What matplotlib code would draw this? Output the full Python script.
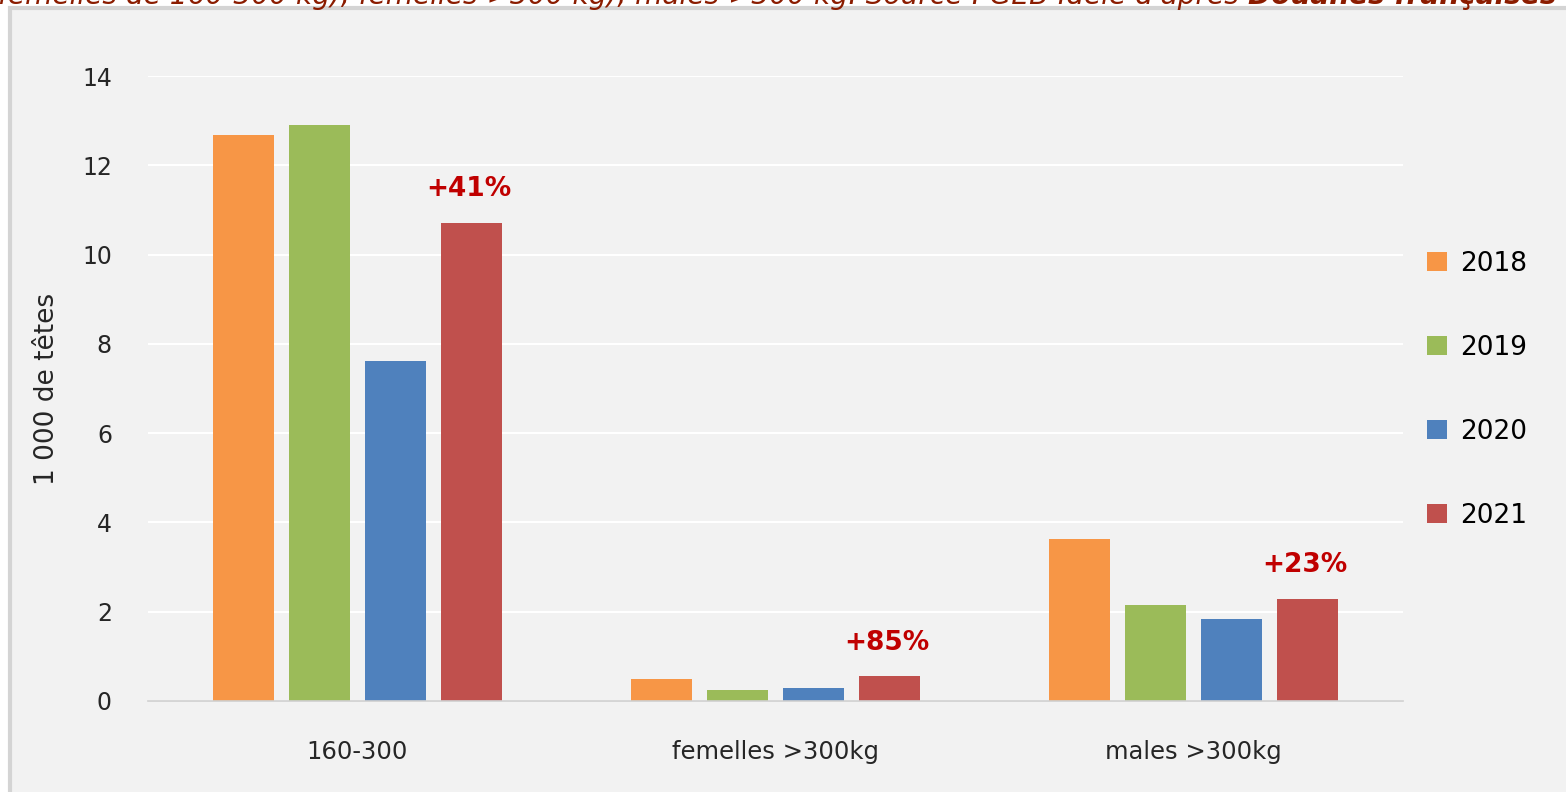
import numpy as np
import matplotlib.pyplot as plt
from matplotlib.patches import Rectangle

categories = ['160-300', 'femelles >300kg', 'males >300kg']
years = ['2018', '2019', '2020', '2021']
v2018 = [12.68, 0.49, 3.63]
v2019 = [12.90, 0.25, 2.15]
v2020 = [7.62, 0.30, 1.84]
v2021 = [10.71, 0.55, 2.28]
evolution = ['+41%', '+85%', '+23%']

colors = ['#f79646', '#9bbb59', '#4f81bd', '#c0504d']
series = [v2018, v2019, v2020, v2021]

plt.rcParams['font.family'] = ['DejaVu Sans']
bg = '#f2f2f2'

fig = plt.figure(figsize=(15.66, 7.92), dpi=100)
fig.patch.set_facecolor('white')

# chart frame
fig.patches.append(Rectangle((10/1566, -0.02), 1.02, 1 - 8/792 + 0.02,
                             transform=fig.transFigure, facecolor=bg,
                             edgecolor='#d4d4d4', linewidth=3, zorder=-5))

ax = fig.add_axes([148/1566, 1 - 701/792, 1255/1566, 625/792])
ax.set_facecolor(bg)
ax.set_zorder(2)

x = np.arange(len(categories))
step = 76/418
width = 61/418
for i, (vals, c, yr) in enumerate(zip(series, colors, years)):
    ax.bar(x + (i - 1.5)*step, vals, width, color=c, label=yr, zorder=3)

for xi, v, lab in zip(x, v2021, evolution):
    ax.annotate(lab, (xi + 1.5*step, v), xytext=(-2, 15), textcoords='offset points',
                ha='center', va='bottom', color='#c00000', fontsize=19, fontweight='bold')

ax.set_xlim(-0.5, 2.5)
ax.set_ylim(0, 14)
ax.set_yticks(np.arange(0, 15, 2))
ax.yaxis.grid(True, color='white', linewidth=1.5, zorder=0)
ax.set_axisbelow(True)
for s in ['top', 'right', 'left']:
    ax.spines[s].set_visible(False)
ax.spines['bottom'].set_color('#d0d0d0')
ax.spines['bottom'].set_linewidth(1.2)
ax.spines['bottom'].set_zorder(4)
ax.tick_params(length=0, labelsize=17, colors='#262626')
ax.tick_params(axis='y', pad=26)
ax.tick_params(axis='x', pad=28, labelsize=17.5)
ax.set_xticks(x)
ax.set_xticklabels(categories)
ax.set_ylabel('1 000 de têtes', fontsize=19, color='#262626', labelpad=16)

ax.legend(loc='center left', bbox_to_anchor=(1.0, 0.498), frameon=False, fontsize=19,
          handlelength=0.75, handleheight=0.75, labelspacing=2.2, handletextpad=0.5)

# cropped source text at top
t1 = fig.text(-2/1566, 1 - 4/792,
              "femelles de 160-300 kg), femelles >300 kg), mâles >300 kg. Source : GEB-Idele d'après ",
              fontsize=20.2, style='italic', color='#8b1c00', va='baseline', ha='left')
fig.canvas.draw()
bb = t1.get_window_extent()
fig.text(bb.x1/fig.bbox.width, 1 - 4/792, "Douanes françaises",
         fontsize=20.2, style='italic', fontweight='bold', color='#8b1c00', va='baseline', ha='left')

fig.savefig('out.png', dpi=100, facecolor=fig.get_facecolor())
